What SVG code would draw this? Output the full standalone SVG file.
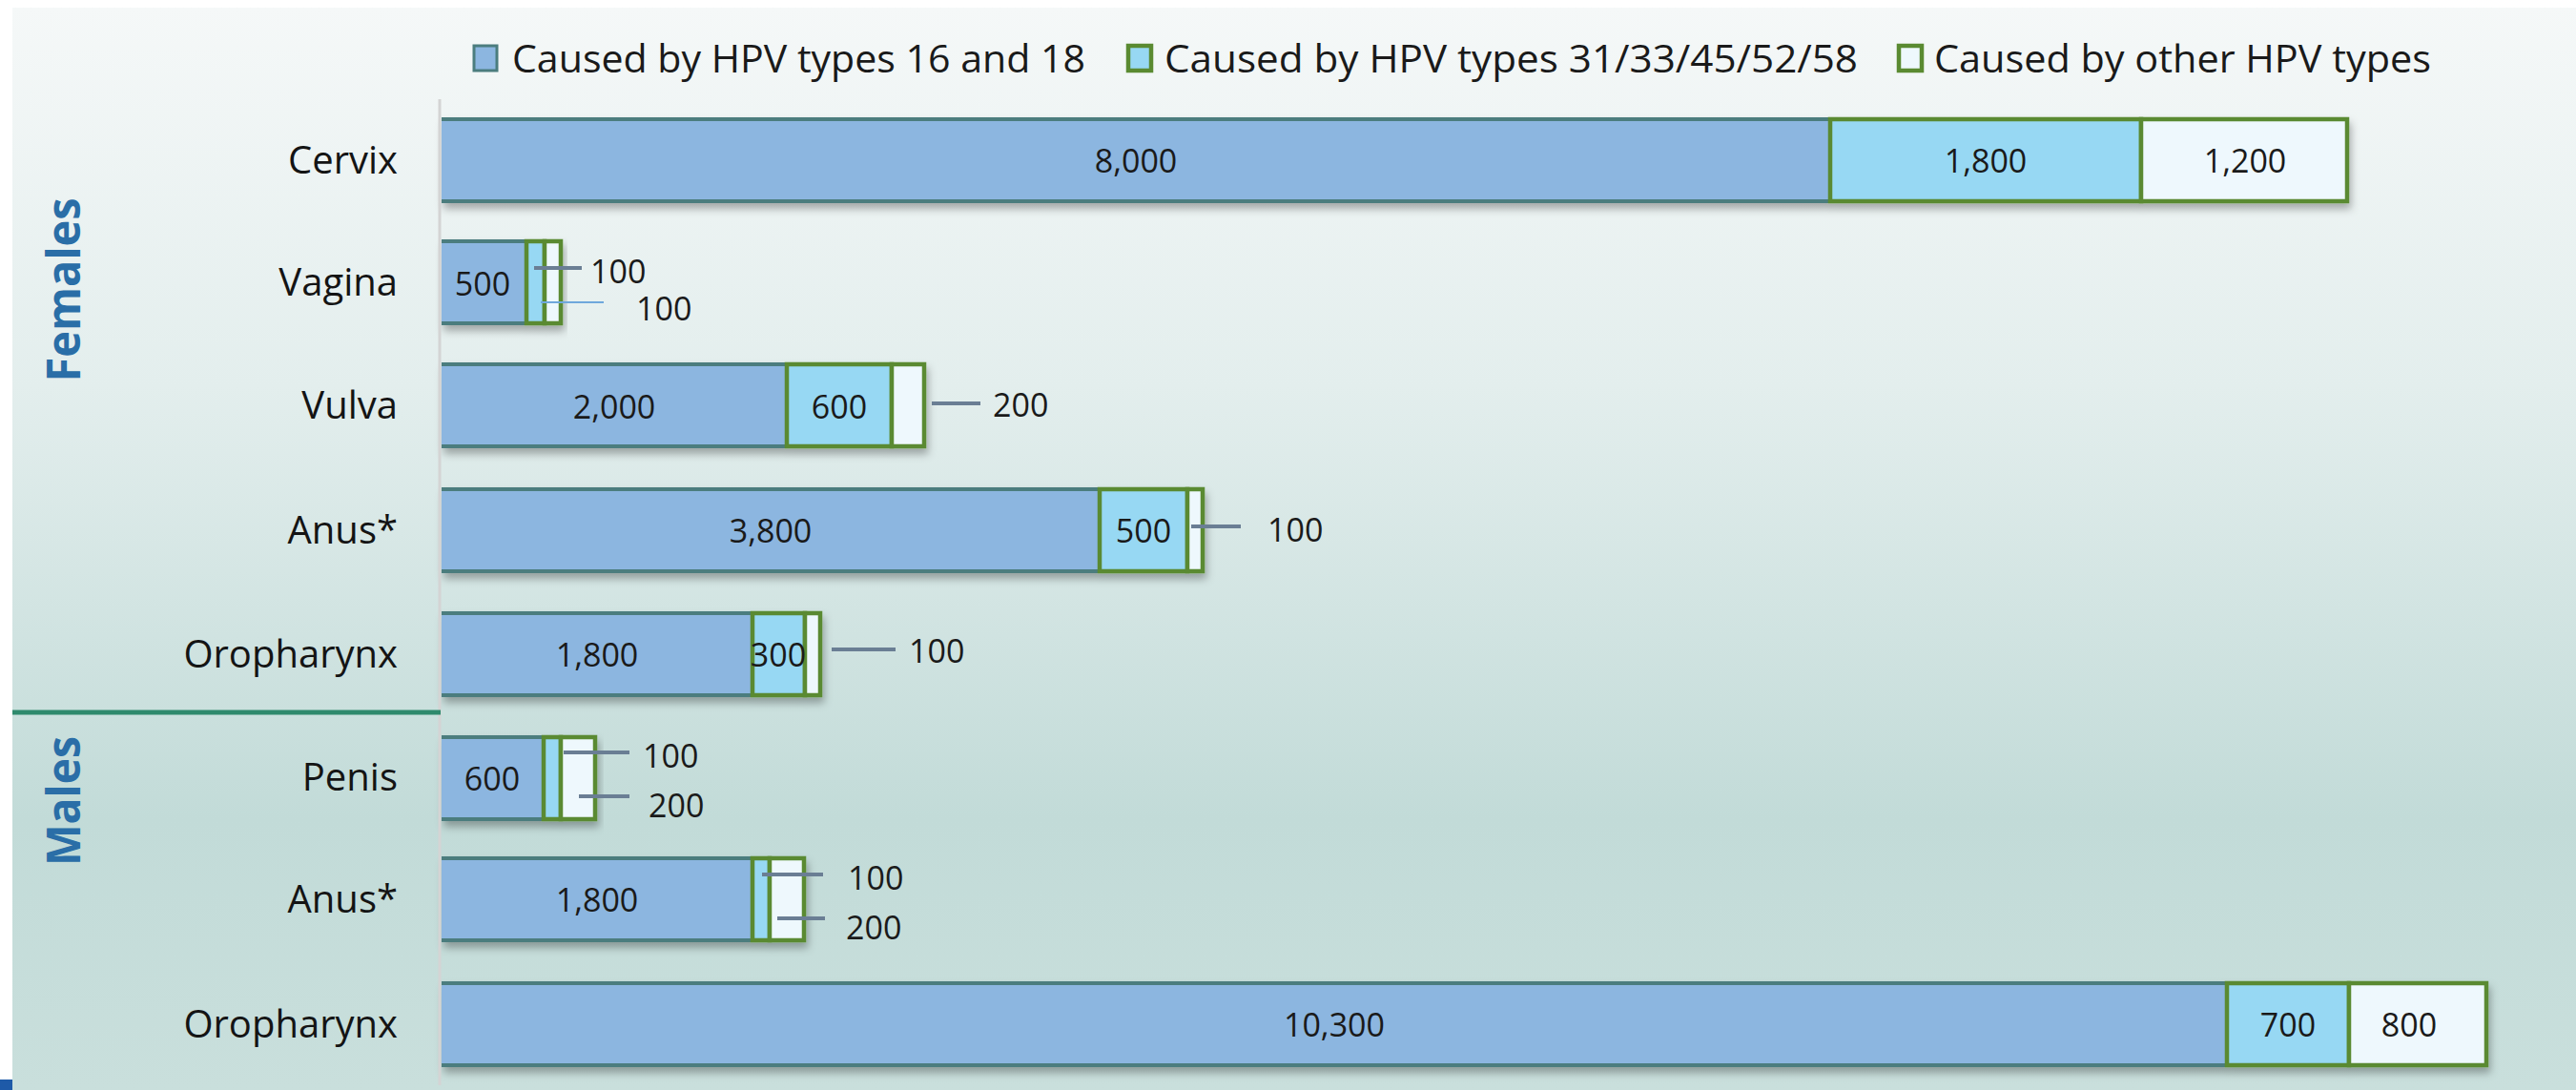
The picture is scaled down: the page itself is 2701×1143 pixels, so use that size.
<svg xmlns="http://www.w3.org/2000/svg" width="2701" height="1143" viewBox="0 0 2701 1143">
<defs>
<linearGradient id="bg" x1="0" y1="0" x2="0" y2="1">
<stop offset="0" stop-color="#f5f8f8"/>
<stop offset="0.35" stop-color="#e3eeed"/>
<stop offset="0.75" stop-color="#c2dbd8"/>
<stop offset="1" stop-color="#c9dfdc"/>
</linearGradient>
<filter id="sh" x="-5%" y="-20%" width="110%" height="170%">
<feDropShadow dx="2" dy="6" stdDeviation="4" flood-color="#000" flood-opacity="0.3"/>
</filter>
</defs>
<style>
text{font-family:"Open Sans","Noto Sans","Liberation Sans",sans-serif}
.cat{font-size:40px;fill:#141414;text-anchor:end}
.num{font-size:34px;fill:#1a1a1a;text-anchor:middle}
.lbl{font-size:34px;fill:#1a1a1a;text-anchor:start}
.leg{font-size:41px;fill:#1a1a1a}
.grp{font-size:48px;font-weight:bold;fill:#2a6ea7;text-anchor:middle}
.s1{fill:#8cb6e0}
.e1{stroke:#4b7d7e;stroke-width:4;fill:none}
.s2{fill:#97d8f3;stroke:#5a8a31;stroke-width:4.5}
.s3{fill:#eef8fd;stroke:#5a8a31;stroke-width:4.5}
.ld{stroke:#6a7e94;stroke-width:4}
.ld2{stroke:#6fa8dc;stroke-width:2}
</style>
<rect x="0" y="0" width="2701" height="1143" fill="#ffffff"/>
<rect x="13" y="8" width="2688" height="1135" fill="url(#bg)"/>
<rect x="0" y="1132" width="13" height="11" fill="#1e5aa8"/>

<g id="legend">
<rect class="s1" x="497" y="48" width="24" height="26" stroke="#4b7d7e" stroke-width="3"/>
<text class="leg" x="537" y="76" textLength="601" lengthAdjust="spacingAndGlyphs">Caused by HPV types 16 and 18</text>
<rect class="s2" x="1183" y="48" width="24" height="26" stroke-width="3"/>
<text class="leg" x="1221" y="76" textLength="727" lengthAdjust="spacingAndGlyphs">Caused by HPV types 31/33/45/52/58</text>
<rect class="s3" x="1991" y="48" width="24" height="26" stroke-width="3"/>
<text class="leg" x="2028" y="76" textLength="521" lengthAdjust="spacingAndGlyphs">Caused by other HPV types</text>
</g>

<g id="group-labels">
<text class="grp" transform="translate(84,304) rotate(-90)" textLength="193" lengthAdjust="spacingAndGlyphs">Females</text>
<text class="grp" transform="translate(84,840) rotate(-90)" textLength="136" lengthAdjust="spacingAndGlyphs">Males</text>
</g>

<g id="row-cervix">
<text class="cat" x="417" y="182">Cervix</text>
<g filter="url(#sh)">
<rect class="s1" x="463" y="125" width="1456" height="86"/>
<path class="e1" d="M463 125H1919M463 211H1919"/>
<rect class="s2" x="1919" y="125" width="326" height="86"/>
<rect class="s3" x="2245" y="125" width="216" height="86"/>
</g>
<text class="num" x="1191" y="181">8,000</text>
<text class="num" x="2082" y="181">1,800</text>
<text class="num" x="2354" y="181">1,200</text>
</g>

<g id="row-vagina">
<text class="cat" x="417" y="310">Vagina</text>
<g filter="url(#sh)">
<rect class="s1" x="463" y="253" width="89" height="86"/>
<path class="e1" d="M463 253H552M463 339H552"/>
<rect class="s2" x="552" y="253" width="19" height="86"/>
<rect class="s3" x="571" y="253" width="17" height="86"/>
</g>
<text class="num" x="506" y="310">500</text>
<text class="lbl" x="619" y="297">100</text>
<text class="lbl" x="667" y="336">100</text>
</g>

<g id="row-vulva">
<text class="cat" x="417" y="439">Vulva</text>
<g filter="url(#sh)">
<rect class="s1" x="463" y="382" width="362" height="86"/>
<path class="e1" d="M463 382H825M463 468H825"/>
<rect class="s2" x="825" y="382" width="110" height="86"/>
<rect class="s3" x="935" y="382" width="34" height="86"/>
</g>
<text class="num" x="644" y="439">2,000</text>
<text class="num" x="880" y="439">600</text>
<text class="lbl" x="1041" y="437">200</text>
</g>

<g id="row-anus-f">
<text class="cat" x="417" y="570">Anus*</text>
<g filter="url(#sh)">
<rect class="s1" x="463" y="513" width="690" height="86"/>
<path class="e1" d="M463 513H1153M463 599H1153"/>
<rect class="s2" x="1153" y="513" width="92" height="86"/>
<rect class="s3" x="1245" y="513" width="16" height="86"/>
</g>
<text class="num" x="808" y="569">3,800</text>
<text class="num" x="1199" y="569">500</text>
<text class="lbl" x="1329" y="568">100</text>
</g>

<g id="row-oropharynx-f">
<text class="cat" x="417" y="700">Oropharynx</text>
<g filter="url(#sh)">
<rect class="s1" x="463" y="643" width="326" height="86"/>
<path class="e1" d="M463 643H789M463 729H789"/>
<rect class="s2" x="789" y="643" width="55" height="86"/>
<rect class="s3" x="844" y="643" width="16" height="86"/>
</g>
<text class="num" x="626" y="699">1,800</text>
<text class="num" x="816" y="699">300</text>
<text class="lbl" x="953" y="695">100</text>
</g>

<g id="row-penis">
<text class="cat" x="417" y="829">Penis</text>
<g filter="url(#sh)">
<rect class="s1" x="463" y="773" width="107" height="86"/>
<path class="e1" d="M463 773H570M463 859H570"/>
<rect class="s2" x="570" y="773" width="18" height="86"/>
<rect class="s3" x="588" y="773" width="36" height="86"/>
</g>
<text class="num" x="516" y="829">600</text>
<text class="lbl" x="674" y="805">100</text>
<text class="lbl" x="680" y="857">200</text>
</g>

<g id="row-anus-m">
<text class="cat" x="417" y="957">Anus*</text>
<g filter="url(#sh)">
<rect class="s1" x="463" y="900" width="326" height="86"/>
<path class="e1" d="M463 900H789M463 986H789"/>
<rect class="s2" x="789" y="900" width="18" height="86"/>
<rect class="s3" x="807" y="900" width="36" height="86"/>
</g>
<text class="num" x="626" y="956">1,800</text>
<text class="lbl" x="889" y="933">100</text>
<text class="lbl" x="887" y="985">200</text>
</g>

<g id="row-oropharynx-m">
<text class="cat" x="417" y="1088">Oropharynx</text>
<g filter="url(#sh)">
<rect class="s1" x="463" y="1031" width="1872" height="86"/>
<path class="e1" d="M463 1031H2335M463 1117H2335"/>
<rect class="s2" x="2335" y="1031" width="128" height="86"/>
<rect class="s3" x="2463" y="1031" width="144" height="86"/>
</g>
<text class="num" x="1399" y="1087">10,300</text>
<text class="num" x="2399" y="1087">700</text>
<text class="num" x="2526" y="1087">800</text>
</g>

<g id="axes">
<line x1="461" y1="104" x2="461" y2="1138" stroke="#d4d4d4" stroke-width="3"/>
<line x1="13" y1="747" x2="462" y2="747" stroke="#2f8a6d" stroke-width="5"/>
</g>

<g id="connectors">
<line class="ld" x1="560" y1="281" x2="610" y2="281"/>
<line class="ld2" x1="567" y1="317" x2="633" y2="317"/>
<line class="ld" x1="977" y1="423" x2="1028" y2="423"/>
<line class="ld" x1="1249" y1="552" x2="1301" y2="552"/>
<line class="ld" x1="872" y1="681" x2="939" y2="681"/>
<line class="ld" x1="591" y1="789" x2="660" y2="789"/>
<line class="ld" x1="607" y1="835" x2="660" y2="835"/>
<line class="ld" x1="799" y1="917" x2="863" y2="917"/>
<line class="ld" x1="815" y1="963" x2="865" y2="963"/>
</g>
</svg>
